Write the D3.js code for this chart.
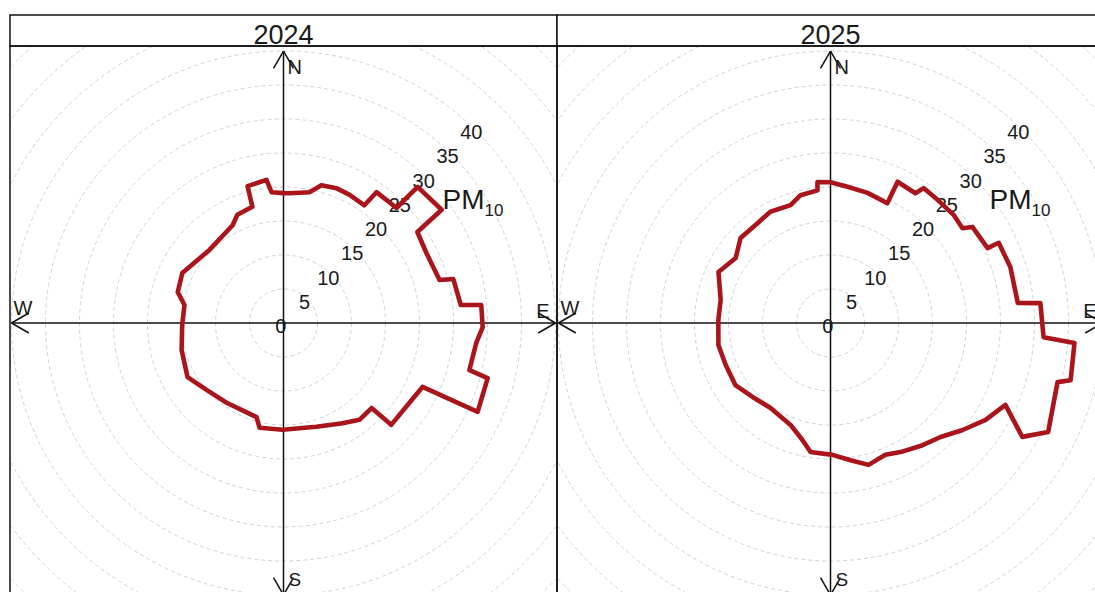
<!DOCTYPE html>
<html>
<head>
<meta charset="utf-8">
<script src="https://cdn.jsdelivr.net/npm/d3@7"></script>
<style>
  body { margin: 0; background: #fff; }
  svg { display: block; }
  text { font-family: "Liberation Sans", Arial, sans-serif; fill: #1a1a1a; }
</style>
</head>
<body>
<svg id="chart" width="1095" height="592"></svg>
<script>
// Panels (one per year)
const years = ["2024", "2025"];

// Mean PM10 by wind direction (degrees clockwise from north)
const dir2024 = [0, 2.6, 11.2, 15.4, 21.4, 27.3, 34.5, 35.4, 40, 44.5, 44.5, 44.6, 54.4,
  55.8, 63.9, 74.6, 75.5, 84.2, 84.8, 91.2, 95.9, 104.2, 105.1, 114.6, 114.7, 121, 133.4,
  134, 141.9, 149.5, 162.4, 180.5, 192.9, 196, 215.5, 229, 240.6, 255.2, 268.9, 280.3,
  286.3, 296.3, 314.6, 332.5, 336.9, 345, 345.3, 353.2, 354.8];
const pm2024 = [19.1, 19.1, 19.6, 21.0, 21.3, 21.2, 21.0, 23.6, 23.6, 23.7, 25.8, 28.1, 28.6,
  23.8, 23.4, 23.8, 25.8, 26.2, 29.2, 29.3, 28.5, 28.2, 31.1, 31.4, 22.5, 22.0, 21.8,
  18.0, 18.1, 17.1, 16.0, 15.7, 15.8, 14.4, 14.4, 15.0, 16.2, 15.5, 14.9, 14.8,
  16.2, 16.6, 15.3, 16.2, 17.3, 17.7, 20.8, 21.2, 19.3];

const dir2025 = [0, 7.1, 15.9, 25.4, 25.4, 33.2, 34.6, 41, 48.7, 54.3,
  55.9, 64.5, 64.5, 72.7, 83.9, 84.6, 93.8, 94.7, 103.4, 104.6,
  116.6, 120.7, 115.1, 122, 129, 136, 143, 151.5, 157.4, 165,
  171.7, 179.1, 188.8, 193.5, 201.4, 215.2, 226.5, 236.9, 248.2, 258.9,
  271.5, 281.8, 294.5, 304.4, 313.4, 324.5, 331.6, 341.3, 346.8, 354.4, 354.7];
const pm2025 = [20.7, 20.2, 19.9, 19.5, 23.0, 22.8, 24.1, 24.0, 24.1, 23.9,
  25.2, 25.6, 27.4, 27.7, 27.7, 31.0, 31.4, 36.0, 36.3, 34.5,
  35.8, 32.8, 28.4, 26.9, 25.0, 23.3, 22.5, 21.6, 21.0, 21.6,
  20.4, 19.4, 19.2, 17.7, 16.1, 15.3, 15.8, 16.7, 16.6, 16.8,
  16.5, 16.5, 18.1, 16.9, 18.2, 18.2, 18.6, 18.3, 19.3, 19.6, 20.8];

// Radial tick labels and grid rings
const radialTicks = [0, 5, 10, 15, 20, 25, 30, 35, 40];
const gridRings = [5, 10, 15, 20, 25, 30, 35, 40, 45, 50, 55, 60];
const compass = ["N", "E", "S", "W"];

const series = {
  "2024": dir2024.map((d, i) => ({ dir: d, v: pm2024[i] })),
  "2025": dir2025.map((d, i) => ({ dir: d, v: pm2025[i] }))
};

const svg = d3.select("#chart");
const W = 1095, H = 592;
svg.append("rect").attr("width", W).attr("height", H).attr("fill", "#fff");

const stripTop = 15, stripH = 31;
const panelX = d3.scaleBand().domain(years).range([10, 1104]).paddingInner(0);
const pw = panelX.bandwidth();
const panelTop = stripTop + stripH;
const cyOff = 277;               // centre below the strip
const r = d3.scaleLinear().domain([0, 40]).range([0, 272]);
const rad = Math.PI / 180;

const line = d3.lineRadial()
  .angle(d => d.dir * rad)
  .radius(d => r(d.v))
  .curve(d3.curveLinearClosed);

years.forEach((yr, idx) => {
  const x0 = panelX(yr);
  const cx = x0 + pw / 2;
  const cy = panelTop + cyOff;

  const clipId = "clip" + idx;
  svg.append("clipPath").attr("id", clipId)
    .append("rect").attr("x", x0).attr("y", panelTop).attr("width", pw).attr("height", 700);

  const g = svg.append("g").attr("clip-path", `url(#${clipId})`);
  const c = g.append("g").attr("transform", `translate(${cx},${cy})`);

  // grid rings
  c.selectAll("circle.ring").data(gridRings).join("circle")
    .attr("class", "ring")
    .attr("r", d => r(d))
    .attr("fill", "none")
    .attr("stroke", "#d2d2d2")
    .attr("stroke-width", 1)
    .attr("stroke-dasharray", "4,3");

  // compass axes with open arrow heads
  const L = r(40);
  compass.forEach((k, i) => {
    const a = i * 90 * rad;
    const ux = Math.sin(a), uy = -Math.cos(a);
    c.append("line").attr("x1", 0).attr("y1", 0)
      .attr("x2", ux * L).attr("y2", uy * L)
      .attr("stroke", "#111").attr("stroke-width", 1.5);
    [-1, 1].forEach(s => {
      const b = a + Math.PI + s * 30 * rad;
      c.append("line")
        .attr("x1", ux * L).attr("y1", uy * L)
        .attr("x2", ux * L + Math.sin(b) * 20).attr("y2", uy * L - Math.cos(b) * 20)
        .attr("stroke", "#111").attr("stroke-width", 1.5);
    });
  });

  // compass letters
  c.append("text").text("N").attr("x", 4).attr("y", -L + 23).attr("font-size", 20);
  c.append("text").text("S").attr("x", 5).attr("y", L - 9).attr("font-size", 19);
  c.append("text").text("E").attr("x", L - 6).attr("y", -5).attr("font-size", 20).attr("text-anchor", "end");
  c.append("text").text("W").attr("x", -L + 2).attr("y", -8).attr("font-size", 20);

  // radial labels along the NE diagonal
  const la = 44.5 * rad;
  c.selectAll("text.rt").data(radialTicks).join("text")
    .attr("class", "rt")
    .attr("x", d => Math.sin(la) * (r(d) - 4))
    .attr("y", d => -Math.cos(la) * (r(d) - 4))
    .attr("dy", "0.36em")
    .attr("text-anchor", "middle")
    .attr("font-size", 20)
    .text(d => d);

  // pollutant label
  const pa = 55.5 * rad, pr = r(32.3);
  const pt = c.append("text")
    .attr("x", Math.sin(pa) * pr - 22)
    .attr("y", -Math.cos(pa) * pr + 10)
    .attr("font-size", 28);
  pt.append("tspan").text("PM");
  pt.append("tspan").text("10").attr("font-size", 17).attr("dy", 7);

  // mean concentration rose
  c.append("path")
    .datum(series[yr])
    .attr("d", line)
    .attr("fill", "none")
    .attr("stroke", "#aa151c")
    .attr("stroke-width", 4.6)
    .attr("stroke-linejoin", "round");

  // strip
  svg.append("rect").attr("x", x0).attr("y", stripTop).attr("width", pw).attr("height", stripH)
    .attr("fill", "#fff").attr("stroke", "#111").attr("stroke-width", 1.5);
  svg.append("text").text(yr)
    .attr("x", cx).attr("y", stripTop + stripH - 2)
    .attr("text-anchor", "middle").attr("font-size", 27);

  // panel frame
  svg.append("rect").attr("x", x0).attr("y", panelTop).attr("width", pw).attr("height", 700)
    .attr("fill", "none").attr("stroke", "#111").attr("stroke-width", 1.5);
});
</script>
</body>
</html>
